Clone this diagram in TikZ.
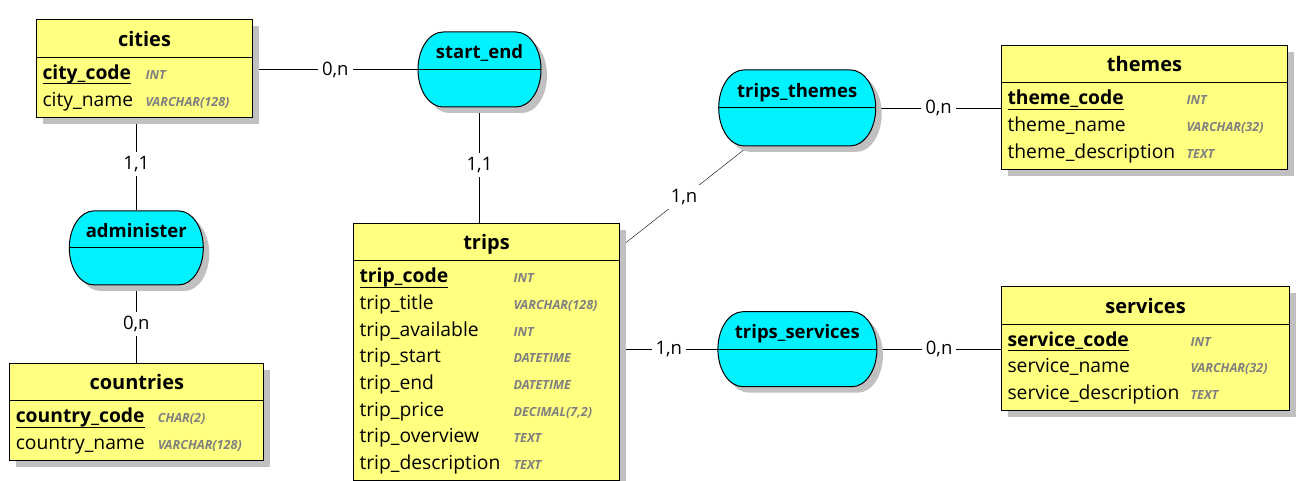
\documentclass[tikz,border=0pt]{standalone}
\usepackage{fontspec}
\setmainfont{Open Sans}
\usetikzlibrary{shadows,shapes.misc}

\definecolor{tableyellow}{RGB}{255,255,128}
\definecolor{relcyan}{RGB}{0,242,255}
\definecolor{typegray}{RGB}{128,128,128}
\definecolor{shadowgray}{RGB}{192,192,192}

\pgfdeclarelayer{bg}
\pgfsetlayers{bg,main}

\newsavebox\keybox
\newcommand{\keyfield}[1]{\sbox\keybox{\bfseries #1}\rlap{\rule[-5pt]{\wd\keybox}{1.2pt}}\usebox\keybox}

\begin{document}
\begin{tikzpicture}[x=1pt,y=-1pt,line width=1pt,
	entity/.style={draw,fill=tableyellow,anchor=north west,inner sep=0pt,drop shadow={shadow xshift=6.5pt,shadow yshift=-6.5pt,fill=shadowgray,opacity=1}},
	rel/.style={draw,fill=relcyan,rounded rectangle,transform shape,inner sep=0pt,drop shadow={shadow xshift=6pt,shadow yshift=-6pt,fill=shadowgray,opacity=1}},
	entitytitle/.style={anchor=base,inner sep=0pt,font=\fontsize{20}{24}\selectfont\bfseries},
	reltitle/.style={anchor=base,inner sep=0pt,font=\fontsize{18.5}{23}\selectfont\bfseries},
	fieldname/.style={anchor=base west,inner sep=0pt,font=\fontsize{19.3}{23}\selectfont},
	fieldtype/.style={anchor=base west,inner sep=0pt,text=typegray,font=\fontsize{12.6}{14}\selectfont\bfseries\itshape},
	card/.style={fill=white,inner sep=4pt,font=\fontsize{18.5}{22}\selectfont}]
	\useasboundingbox (0,0) rectangle (1316,481);

	% entities
	\node[entity,minimum width=216,minimum height=97.4] (cities) at (36,19.5) {};
	\node[entitytitle] (cities-title) at ([yshift=-27]cities.north) {cities};
	\draw ([yshift=-38]cities.north west) -- ([yshift=-38]cities.north east);
	\foreach \f/\t [count=\i from 0] in {\keyfield{city\_code}/INT, city\_name/VARCHAR(128)} {
		\node[fieldname] (cities-f\i) at ([xshift=6,yshift={-60-26.7*\i}]cities.north west) {\f};
		\node[fieldtype] (cities-t\i) at ([xshift=109,yshift={-60-26.7*\i}]cities.north west) {\t};
	}

	\node[entity,minimum width=254,minimum height=97.4] (countries) at (9.3,362.7) {};
	\node[entitytitle] (countries-title) at ([yshift=-27]countries.north) {countries};
	\draw ([yshift=-38]countries.north west) -- ([yshift=-38]countries.north east);
	\foreach \f/\t [count=\i from 0] in {\keyfield{country\_code}/CHAR(2), country\_name/VARCHAR(128)} {
		\node[fieldname] (countries-f\i) at ([xshift=6,yshift={-60-26.7*\i}]countries.north west) {\f};
		\node[fieldtype] (countries-t\i) at ([xshift=148,yshift={-60-26.7*\i}]countries.north west) {\t};
	}

	\node[entity,minimum width=266,minimum height=257.6] (trips) at (353,222.7) {};
	\node[entitytitle] (trips-title) at ([yshift=-27]trips.north) {trips};
	\draw ([yshift=-38]trips.north west) -- ([yshift=-38]trips.north east);
	\foreach \f/\t [count=\i from 0] in {\keyfield{trip\_code}/INT, trip\_title/VARCHAR(128), trip\_available/INT, trip\_start/DATETIME, trip\_end/DATETIME, trip\_price/{DECIMAL(7,2)}, trip\_overview/TEXT, trip\_description/TEXT} {
		\node[fieldname] (trips-f\i) at ([xshift=6,yshift={-60-26.7*\i}]trips.north west) {\f};
		\node[fieldtype] (trips-t\i) at ([xshift=160,yshift={-60-26.7*\i}]trips.north west) {\t};
	}

	\node[entity,minimum width=286,minimum height=124.1] (themes) at (1001,45) {};
	\node[entitytitle] (themes-title) at ([yshift=-27]themes.north) {themes};
	\draw ([yshift=-38]themes.north west) -- ([yshift=-38]themes.north east);
	\foreach \f/\t [count=\i from 0] in {\keyfield{theme\_code}/INT, theme\_name/VARCHAR(32), theme\_description/TEXT} {
		\node[fieldname] (themes-f\i) at ([xshift=6,yshift={-60-26.7*\i}]themes.north west) {\f};
		\node[fieldtype] (themes-t\i) at ([xshift=185,yshift={-60-26.7*\i}]themes.north west) {\t};
	}

	\node[entity,minimum width=288,minimum height=124.1] (services) at (1001,286) {};
	\node[entitytitle] (services-title) at ([yshift=-27]services.north) {services};
	\draw ([yshift=-38]services.north west) -- ([yshift=-38]services.north east);
	\foreach \f/\t [count=\i from 0] in {\keyfield{service\_code}/INT, service\_name/VARCHAR(32), service\_description/TEXT} {
		\node[fieldname] (services-f\i) at ([xshift=6,yshift={-60-26.7*\i}]services.north west) {\f};
		\node[fieldtype] (services-t\i) at ([xshift=189,yshift={-60-26.7*\i}]services.north west) {\t};
	}

	% relations
	\node[rel,shift={(479.5,69.5)},xscale=2/3,minimum width=184.5,minimum height=75] (start-end) at (0,0) {};
	\node[reltitle] (start-end-title) at ([yshift=10.5]start-end.center) {start\_end};
	\draw (start-end.west) -- (start-end.east);

	\node[rel,shift={(136.3,247.9)},xscale=2/3,minimum width=201,minimum height=74] (administer) at (0,0) {};
	\node[reltitle] (administer-title) at ([yshift=10.5]administer.center) {administer};
	\draw (administer.west) -- (administer.east);

	\node[rel,shift={(797.2,107.9)},xscale=2/3,minimum width=235.5,minimum height=76] (trips-themes) at (0,0) {};
	\node[reltitle] (trips-themes-title) at ([yshift=10.5]trips-themes.center) {trips\_themes};
	\draw (trips-themes.west) -- (trips-themes.east);

	\node[rel,shift={(797.4,349.2)},xscale=2/3,minimum width=238.5,minimum height=75] (trips-services) at (0,0) {};
	\node[reltitle] (trips-services-title) at ([yshift=10.5]trips-services.center) {trips\_services};
	\draw (trips-services.west) -- (trips-services.east);

	% links
	\begin{pgfonlayer}{bg}
	\path
		(cities.east |- start-end.west) edge node[card] {0,n} (start-end.west)
		(cities.south -| administer.north) edge node[card] {1,1} (administer.north)
		(administer.south) edge node[card] {0,n} (administer.south |- countries.north)
		(start-end.south) edge node[card] {1,1} (start-end.south |- trips.north)
		(trips) edge node[card] {1,n} (trips-themes)
		(trips-themes.east) edge node[card] {0,n} (trips-themes.east -| themes.west)
		(trips.east |- trips-services.west) edge node[card] {1,n} (trips-services.west)
		(trips-services.east) edge node[card] {0,n} (trips-services.east -| services.west);
	\end{pgfonlayer}
\end{tikzpicture}
\end{document}
